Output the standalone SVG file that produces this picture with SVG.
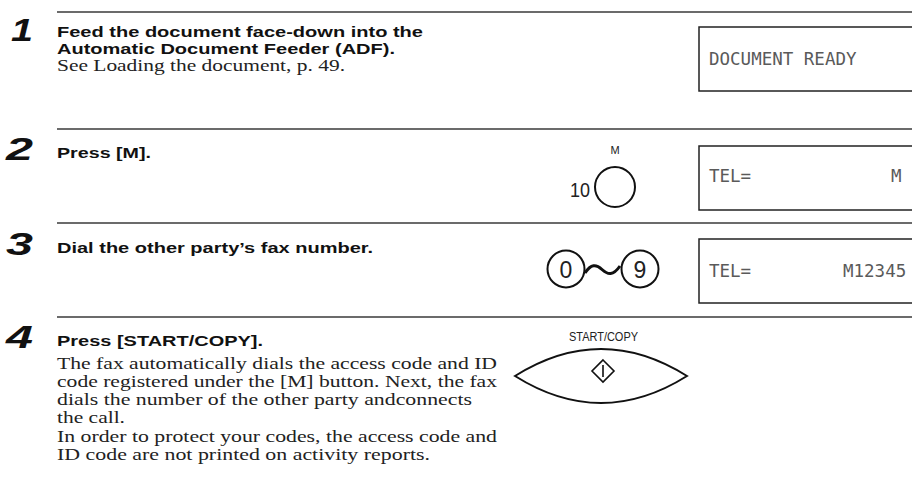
<svg xmlns="http://www.w3.org/2000/svg" width="912" height="486" viewBox="0 0 912 486">
<style>
.rule{stroke:#3a3a3a;stroke-width:1.6;fill:none}
.num{font-family:"Liberation Sans",Arial,sans-serif;font-weight:bold;font-style:italic;font-size:31px;fill:#111}
.hd{font-family:"Liberation Sans",Arial,sans-serif;font-weight:bold;font-size:15.5px;fill:#111}
.bd{font-family:"Liberation Serif","Times New Roman",serif;font-size:17px;fill:#222}
.lcd{fill:#fff;stroke:#222;stroke-width:1.5}
.lt{font-family:"DejaVu Sans Mono",monospace;font-size:17.5px;fill:#5a5a5a}
.key{fill:#fff;stroke:#111;stroke-width:2}
.kl{font-family:"Liberation Sans",Arial,sans-serif;fill:#222}
</style>
<g id="rules">
<line class="rule" x1="57" y1="12" x2="912" y2="12"/>
<line class="rule" x1="57" y1="129" x2="912" y2="129"/>
<line class="rule" x1="57" y1="223" x2="912" y2="223"/>
<line class="rule" x1="57" y1="317" x2="912" y2="317"/>
</g>
<g id="step1">
<text class="num" x="11" y="41" textLength="22" lengthAdjust="spacingAndGlyphs">1</text>
<text class="hd" x="57" y="37" textLength="366" lengthAdjust="spacingAndGlyphs">Feed the document face-down into the</text>
<text class="hd" x="57" y="54" textLength="338" lengthAdjust="spacingAndGlyphs">Automatic Document Feeder (ADF).</text>
<text class="bd" x="57" y="71" textLength="288" lengthAdjust="spacingAndGlyphs">See Loading the document, p. 49.</text>
<rect class="lcd" x="699" y="27" width="230" height="64"/>
<text class="lt" x="709" y="65">DOCUMENT READY</text>
</g>
<g id="step2">
<text class="num" x="6" y="160" textLength="27" lengthAdjust="spacingAndGlyphs">2</text>
<text class="hd" x="57" y="158" textLength="94" lengthAdjust="spacingAndGlyphs">Press [M].</text>
<text class="kl" x="615" y="154" font-size="11" text-anchor="middle">M</text>
<text class="kl" x="570" y="197" font-size="20" textLength="20" lengthAdjust="spacingAndGlyphs">10</text>
<circle class="key" cx="615" cy="187" r="20"/>
<rect class="lcd" x="699" y="146" width="230" height="64"/>
<text class="lt" x="709" y="182">TEL=</text>
<text class="lt" x="891" y="182">M</text>
</g>
<g id="step3">
<text class="num" x="6" y="255" textLength="27" lengthAdjust="spacingAndGlyphs">3</text>
<text class="hd" x="57" y="253" textLength="316" lengthAdjust="spacingAndGlyphs">Dial the other party’s fax number.</text>
<circle class="key" cx="566" cy="269" r="18.5"/>
<text class="kl" x="566" y="277.5" font-size="23" text-anchor="middle">0</text>
<path d="M585,273 C591,264 596,264 602,269.5 C608,275 613,276 620,266" fill="none" stroke="#111" stroke-width="3"/>
<circle class="key" cx="640" cy="269" r="18.5"/>
<text class="kl" x="640" y="277.5" font-size="23" text-anchor="middle">9</text>
<rect class="lcd" x="699" y="239" width="230" height="64"/>
<text class="lt" x="709" y="277">TEL=</text>
<text class="lt" x="843" y="277">M12345</text>
</g>
<g id="step4">
<text class="num" x="6" y="348" textLength="27" lengthAdjust="spacingAndGlyphs">4</text>
<text class="hd" x="57" y="346" textLength="206" lengthAdjust="spacingAndGlyphs">Press [START/COPY].</text>
<text class="bd" x="57" y="369" textLength="440" lengthAdjust="spacingAndGlyphs">The fax automatically dials the access code and ID</text>
<text class="bd" x="57" y="387" textLength="440" lengthAdjust="spacingAndGlyphs">code registered under the [M] button. Next, the fax</text>
<text class="bd" x="57" y="405" textLength="415" lengthAdjust="spacingAndGlyphs">dials the number of the other party andconnects</text>
<text class="bd" x="57" y="423" textLength="68" lengthAdjust="spacingAndGlyphs">the call.</text>
<text class="bd" x="57" y="442" textLength="440" lengthAdjust="spacingAndGlyphs">In order to protect your codes, the access code and</text>
<text class="bd" x="57" y="460" textLength="373" lengthAdjust="spacingAndGlyphs">ID code are not printed on activity reports.</text>
<text class="kl" x="569" y="341" font-size="12.5" textLength="69" lengthAdjust="spacingAndGlyphs">START/COPY</text>
<path class="key" d="M515,376 Q601,322 687,376 Q601,430 515,376 Z"/>
<path d="M603,360 L614,371 L603,382 L592,371 Z M603,365 L603,377" fill="none" stroke="#111" stroke-width="1.6"/>
</g>
</svg>
